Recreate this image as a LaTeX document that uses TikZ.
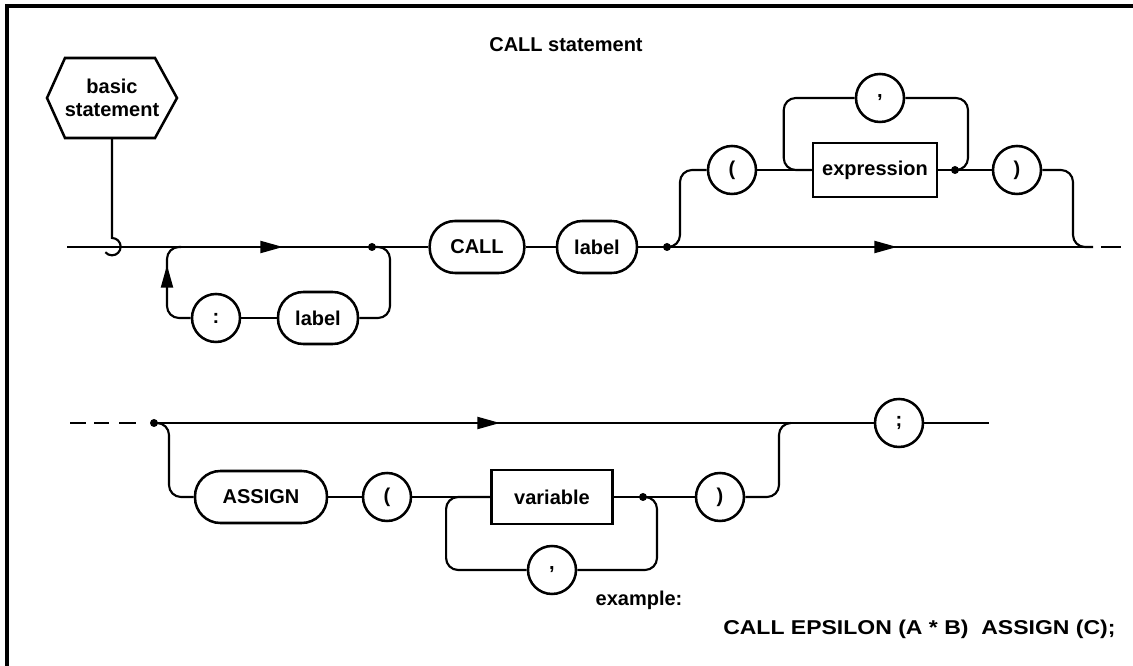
\documentclass[tikz,border=0pt]{standalone}
\usepackage{fontspec}
\usepackage{graphicx}
\setmainfont{Liberation Sans}
\usetikzlibrary{arrows.meta}
\begin{document}
\begin{tikzpicture}[x=0.75pt,y=-0.75pt,
  lbl/.style={font=\fontsize{15}{17}\selectfont\bfseries},
  term/.style={lbl,draw,line width=1.9pt,rounded corners=19pt,minimum height=39pt,inner sep=0pt},
  nonterm/.style={lbl,draw,line width=1.9pt,minimum height=40.5pt,inner sep=0pt},
  circ/.style={lbl,draw,circle,line width=1.9pt,minimum size=36pt,inner sep=0pt},
  dot/.style={circle,fill,minimum size=6pt,inner sep=0pt},
  conn/.style={line width=1.6pt,rounded corners=9pt},
  tipline/.style={line width=1.6pt,-{Triangle[length=17pt,width=9pt]}},
]
\useasboundingbox (0,0) rectangle (1133,666);
% frame
\draw[line width=2.3pt] (7,666) -- (7,6) -- (1133,6);
% title
\node[lbl,anchor=base] (title) at (566,52) {CALL statement};
% hexagon
\draw[line width=1.9pt] (47,98) -- (65,58) -- (155,58) -- (177,98) -- (155,138) -- (65,138) -- cycle;
\node[lbl,align=center,font=\fontsize{15}{17}\selectfont\bfseries] (hex) at (112,98) {basic\\statement};
\coordinate (hexb) at (112,138);
\coordinate (hk) at (112,238);
% row 1 nodes
\coordinate (s1) at (67,247);
\node[dot] (dot1) at (372,247) {};
\node[term,minimum width=71pt] (call) at (477,247) {CALL};
\node[term,minimum width=60pt] (lab1) at (597,247) {label};
\node[dot] (dot2) at (667,247) {};
\node[circ] (lp1) at (732,170) {(};
\node[nonterm,minimum width=93pt] (expr) at (875,170) {expression};
\node[dot] (dot3) at (955,170) {};
\node[circ] (cm1) at (880,98) {,};
\node[circ] (rp1) at (1017,170) {)};
\coordinate (j3) at (968,170);
\coordinate (j1) at (1073,247);
\coordinate (e1) at (1093,247);
\coordinate (d1a) at (1101,247);
\coordinate (d1b) at (1121,247);
\node[circ] (colon) at (216,318) {:};
\node[term,minimum width=60pt] (lab2) at (318,318) {label};
\coordinate (j2) at (167,247);
\coordinate (j2r) at (181,247);
% arrows
\coordinate (a1s) at (258,247); \coordinate (a1e) at (283,247);
\coordinate (a2s) at (872,247); \coordinate (a2e) at (897,247);
\coordinate (a3s) at (167,292); \coordinate (a3e) at (167,265);
\coordinate (a4s) at (475,423); \coordinate (a4e) at (500,423);
% row 2 nodes
\coordinate (d2a) at (70,423); \coordinate (d2b) at (86,423);
\coordinate (d2c) at (94,423); \coordinate (d2d) at (109,423);
\coordinate (d2e) at (119,423); \coordinate (d2f) at (136,423);
\node[dot] (dot4) at (154,423) {};
\node[term,minimum width=99pt] (assign) at (261,497) {ASSIGN};
\node[circ] (lp2) at (387,497) {(};
\node[nonterm,minimum width=91pt] (var) at (552,497) {variable};
\node[dot] (dot5) at (643,497) {};
\node[circ] (cm2) at (552,570) {,};
\node[circ] (rp2) at (720,497) {)};
\coordinate (j5) at (657,497);
\coordinate (j6) at (779,423);
\coordinate (j6r) at (791,423);
\node[circ] (semi) at (899,423) {;};
\coordinate (e2) at (989,423);
% row 1 connectors
\draw[line width=1.6pt] (hexb) -- (hk) arc[start angle=90,end angle=-140,radius=6.5pt];
\draw[conn] (s1) -- (call.west);
\draw[conn] (call.east) -- (lab1.west);
\draw[conn] (lab1.east) -- (e1);
\draw[conn] (d1a) -- (d1b);
\draw[conn] (dot2.center) -- ++(13,0) |- (lp1.west);
\draw[conn] (lp1.east) -- (expr.west);
\draw[conn] (expr.east) -- (rp1.west);
\draw[conn] (expr.west) -- ++(-28,0) |- (cm1.west);
\draw[conn] (cm1.east) -| (j3) -- (dot3.center);
\draw[conn] (rp1.east) -| (j1) -- (e1);
\draw[conn] (dot1.center) -- ++(18,0) |- (lab2.east);
\draw[conn] (lab2.west) -- (colon.east);
\draw[conn] (colon.west) -| (j2) -- (j2r);
\draw[tipline] (a1s) -- (a1e);
\draw[tipline] (a2s) -- (a2e);
\draw[tipline] (a3s) -- (a3e);
% row 2 connectors
\draw[conn] (d2a) -- (d2b);
\draw[conn] (d2c) -- (d2d);
\draw[conn] (d2e) -- (d2f);
\draw[conn] (dot4.center) -- (semi.west);
\draw[conn] (semi.east) -- (e2);
\draw[conn] (dot4.center) -- ++(15,0) |- (assign.west);
\draw[conn] (assign.east) -- (lp2.west);
\draw[conn] (lp2.east) -- (var.west);
\draw[conn] (var.west) -- ++(-44,0) |- (cm2.west);
\draw[conn] (cm2.east) -| (j5) -- (dot5.center);
\draw[conn] (var.east) -- (rp2.west);
\draw[conn] (rp2.east) -| (j6) -- (j6r);
\draw[tipline] (a4s) -- (a4e);
% example
\node[lbl,anchor=base] (exlab) at (639,606) {example:};
\node[lbl,anchor=base west,inner sep=0pt] (ex) at (723,635) {\scalebox{1.15}[1]{CALL EPSILON (A * B)\ \ ASSIGN (C);}};
\end{tikzpicture}
\end{document}
